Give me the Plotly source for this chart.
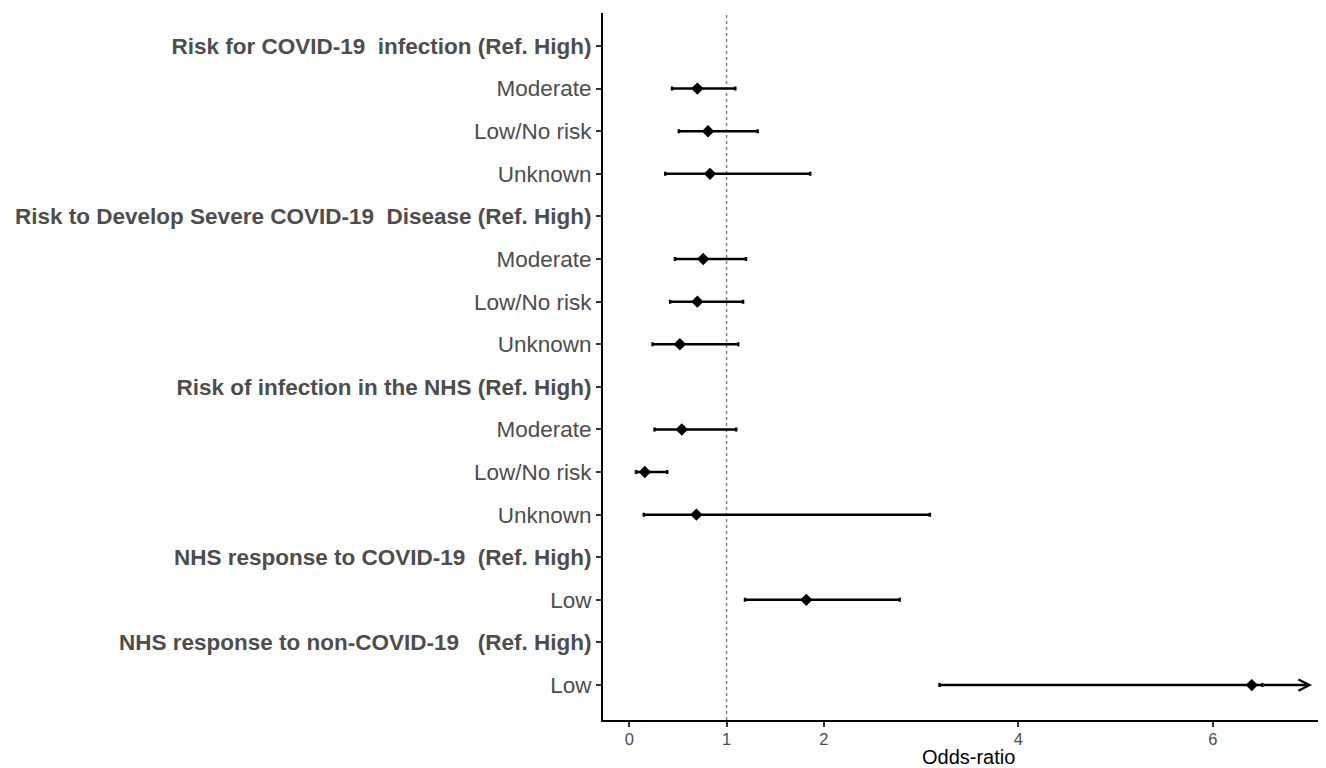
import plotly.graph_objects as go

NB = "\u00a0"
labels = [
    "<b>Risk for COVID-19" + NB * 2 + "infection (Ref. High)</b>",
    "Moderate", "Low/No risk", "Unknown",
    "<b>Risk to Develop Severe COVID-19" + NB * 2 + "Disease (Ref. High)</b>",
    "Moderate", "Low/No risk", "Unknown",
    "<b>Risk of infection in the NHS (Ref. High)</b>",
    "Moderate", "Low/No risk", "Unknown",
    "<b>NHS response to COVID-19" + NB * 2 + "(Ref. High)</b>",
    "Low",
    "<b>NHS response to non-COVID-19" + NB * 3 + "(Ref. High)</b>",
    "Low",
]
odds_ratio = [None, 0.70, 0.81, 0.83, None, 0.76, 0.70, 0.52, None, 0.54, 0.16, 0.69, None, 1.82, None, 6.40]
ci_low = [None, 0.44, 0.51, 0.37, None, 0.47, 0.42, 0.24, None, 0.26, 0.07, 0.15, None, 1.19, None, 3.19]
ci_high = [None, 1.09, 1.32, 1.86, None, 1.20, 1.17, 1.12, None, 1.10, 0.39, 3.09, None, 2.78, None, 6.51]
arrow_end = 7.02  # truncated CI shown with arrow (last row)
x_ticks = [0, 1, 2, 4, 6]

n = len(labels)
ypos = [n - 1 - i for i in range(n)]

px_, py_, eplus, eminus = [], [], [], []
for i in range(n):
    if odds_ratio[i] is None:
        continue
    px_.append(odds_ratio[i])
    py_.append(ypos[i])
    eplus.append(ci_high[i] - odds_ratio[i])
    eminus.append(odds_ratio[i] - ci_low[i])

fig = go.Figure()
fig.add_trace(go.Scatter(
    x=px_, y=py_, mode="markers",
    marker=dict(symbol="diamond", size=9.5, color="black"),
    error_x=dict(type="data", symmetric=False, array=eplus, arrayminus=eminus,
                 color="black", thickness=2.5, width=2),
    showlegend=False, hoverinfo="x+y",
))

# arrow for truncated upper CI
last = n - 1
fig.add_annotation(
    x=arrow_end, y=ypos[last], ax=ci_high[last], ay=ypos[last],
    xref="x", yref="y", axref="x", ayref="y",
    showarrow=True, arrowhead=5, arrowsize=0.85, arrowwidth=2.6, arrowcolor="black",
    text="", standoff=0, startstandoff=0,
)

fig.add_shape(type="line", x0=1, x1=1, y0=0, y1=1, xref="x", yref="paper",
              line=dict(color="#808080", width=1.5, dash="dot"), layer="below")

fig.add_annotation(
    text="Odds-ratio", xref="paper", yref="paper", x=0.506, y=0,
    xanchor="center", yanchor="middle", yshift=-37, showarrow=False,
    font=dict(size=20, color="black"),
)

fig.update_layout(
    width=1318, height=760,
    margin=dict(l=595, r=0, t=5, b=48),
    paper_bgcolor="white", plot_bgcolor="white",
    font=dict(family="Liberation Sans, Arial, sans-serif"),
    xaxis=dict(
        range=[-0.27, 7.163], tickvals=x_ticks, ticktext=[str(t) for t in x_ticks],
        showgrid=False, zeroline=False, showline=True, linecolor="black", linewidth=2,
        ticks="outside", ticklen=5, tickwidth=1.5, tickcolor="#333333",
        tickfont=dict(size=16.5, color="#4d4d4d"), ticklabelstandoff=-2,
        automargin=False, fixedrange=True,
    ),
    yaxis=dict(
        range=[-0.82, 15.775], tickvals=ypos, ticktext=labels,
        showgrid=False, zeroline=False, showline=True, linecolor="black", linewidth=2,
        ticks="outside", ticklen=5, tickwidth=1.5, tickcolor="#333333",
        tickfont=dict(size=22.5, color="#4d4d4d"),
        automargin=False, fixedrange=True,
    ),
)

fig.write_html("out.html")
